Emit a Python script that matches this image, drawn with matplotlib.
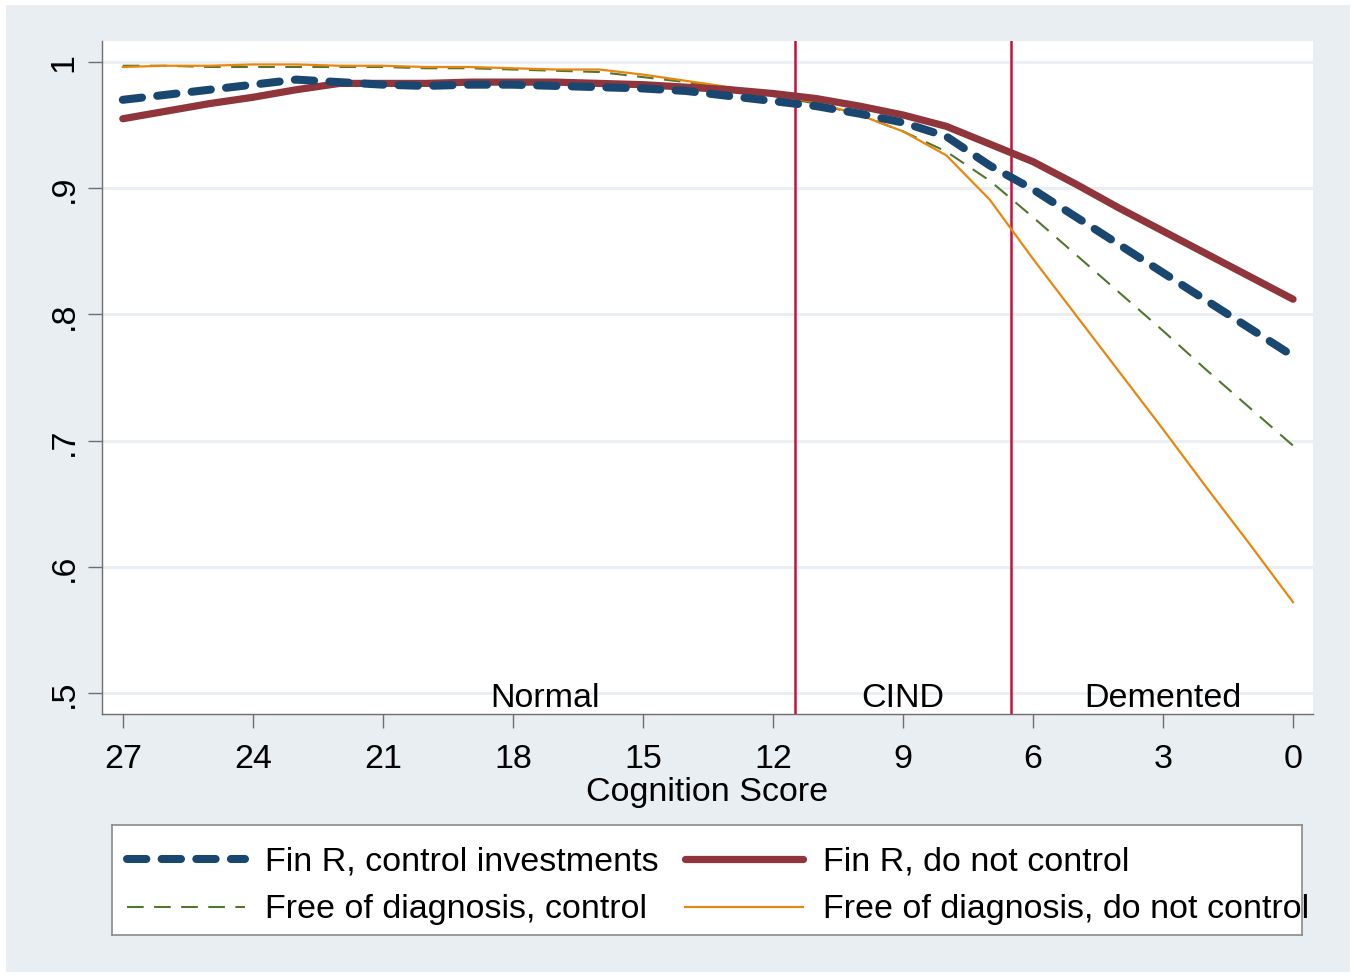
import matplotlib
matplotlib.use("Agg")
import matplotlib.pyplot as plt
from matplotlib.patches import Rectangle
from matplotlib.lines import Line2D

# ── Data ──────────────────────────────────────────────────────────────────────
score = [27, 26, 25, 24, 23, 22, 21, 20, 19, 18, 17, 16, 15, 14,
         13, 12, 11, 10, 9, 8, 7, 6, 5, 4, 3, 2, 1, 0]

finr_control = [.970, .974, .978, .982, .986, .984, .982, .981, .982, .982,
                .981, .980, .979, .977, .973, .969, .965, .959, .952, .941,
                .918, .899, .877, .855, .833, .811, .789, .767]
finr_nocontrol = [.955, .961, .967, .972, .978, .983, .983, .983, .984, .984,
                  .984, .983, .982, .980, .978, .975, .971, .965, .958, .949,
                  .935, .921, .903, .884, .866, .848, .830, .812]
free_control = [.997, .997, .996, .996, .996, .996, .996, .995, .995, .994,
                .993, .992, .988, .984, .979, .973, .967, .958, .945, .929,
                .906, .877, .847, .817, .787, .756, .726, .696]
free_nocontrol = [.996, .997, .997, .998, .998, .997, .997, .996, .996, .995,
                  .994, .994, .990, .985, .980, .974, .968, .958, .945, .926,
                  .891, .844, .799, .754, .709, .663, .618, .572]

x_ticks = [27, 24, 21, 18, 15, 12, 9, 6, 3, 0]
y_ticks = [.5, .6, .7, .8, .9, 1]
y_labels = [".5", ".6", ".7", ".8", ".9", "1"]
cutoffs = [11.5, 6.5]
regions = [("Normal", 17.25), ("CIND", 9), ("Demented", 3)]
labels = ["Fin R, control investments", "Fin R, do not control",
          "Free of diagnosis, control", "Free of diagnosis, do not control"]

# ── Colors ────────────────────────────────────────────────────────────────────
NAVY = "#1A476F"
MAROON = "#90353B"
FOREST = "#55752F"
ORANGE = "#E8860F"
BG = "#E8EEF2"
GRID = "#E9EFF3"
CRIMSON = "#C8103A"
AXIS = "#6E6E6E"
FS = 24.5

plt.rcParams["font.family"] = ["Liberation Sans", "DejaVu Sans"]

W, H = 1357, 979
fig = plt.figure(figsize=(W / 100, H / 100), dpi=100)
fig.patch.set_facecolor("white")
fig.patches.append(Rectangle((6 / W, 1 - 973 / H), (1350 - 6) / W, (973 - 6) / H,
                             transform=fig.transFigure, facecolor=BG,
                             edgecolor="none", zorder=-10))

ax = fig.add_axes([102 / W, 1 - 715 / H, (1313 - 102) / W, (715 - 42) / H])
ax.set_facecolor("white")
ax.set_xlim(27.48, -0.46)
ax.set_ylim(0.4834, 1.0166)

for s in ["top", "right"]:
    ax.spines[s].set_visible(False)
for s in ["left", "bottom"]:
    ax.spines[s].set_color(AXIS)
    ax.spines[s].set_linewidth(1.0)

ax.set_yticks(y_ticks)
ax.set_yticklabels(y_labels, rotation=90, va="center")
ax.set_xticks(x_ticks)
ax.set_xticklabels([str(t) for t in x_ticks])
ax.tick_params(axis="both", colors=AXIS, labelcolor="black", labelsize=FS,
               length=10, width=1.0)
ax.tick_params(axis="y", pad=6)
ax.tick_params(axis="x", pad=11)
ax.yaxis.grid(True, color=GRID, linewidth=2.2)
ax.set_axisbelow(True)
ax.set_xlabel("Cognition Score", fontsize=FS, labelpad=1)

for c in cutoffs:
    ax.axvline(c, color=CRIMSON, linewidth=1.8, zorder=1)

for name, xp in regions:
    ax.text(xp, 0.4968, name, fontsize=FS, ha="center", va="center")

# ── Series ────────────────────────────────────────────────────────────────────
ax.plot(score, free_control, color=FOREST, linewidth=1.5,
        dashes=(8, 5), zorder=3)
ax.plot(score, free_nocontrol, color=ORANGE, linewidth=1.6, zorder=3)
ax.plot(score, finr_nocontrol, color=MAROON, linewidth=5.2,
        solid_capstyle="round", solid_joinstyle="round", zorder=4)
ax.plot(score, finr_control, color=NAVY, linewidth=5.8,
        dashes=(2.4, 1.9), dash_capstyle="round", zorder=5)

# ── Legend (drawn by hand, text spills over the frame like the original) ────
lax = fig.add_axes([112 / W, 1 - 936 / H, (1302 - 112) / W, (936 - 826) / H])
lax.set_xlim(112, 1302)
lax.set_ylim(936, 826)
lax.set_xticks([])
lax.set_yticks([])
for s in lax.spines.values():
    s.set_color("#8A8A8A")
    s.set_linewidth(1.2)

handles = [
    dict(color=NAVY, lw=5.8, dashes=(2.4, 1.9), dash_capstyle="round"),
    dict(color=MAROON, lw=5.2, solid_capstyle="round"),
    dict(color=FOREST, lw=1.5, dashes=(8, 5)),
    dict(color=ORANGE, lw=1.6),
]
pos = [(127, 860), (685, 860), (127, 908), (685, 908)]
for (hx, hy), lbl, st in zip(pos, labels, handles):
    lax.add_line(Line2D([hx, hx + 118], [hy, hy], **st))
    lax.text(hx + 138, hy + 2, lbl, fontsize=FS, va="center", ha="left",
             clip_on=False)

fig.savefig("out.png", dpi=100, facecolor=fig.get_facecolor())
